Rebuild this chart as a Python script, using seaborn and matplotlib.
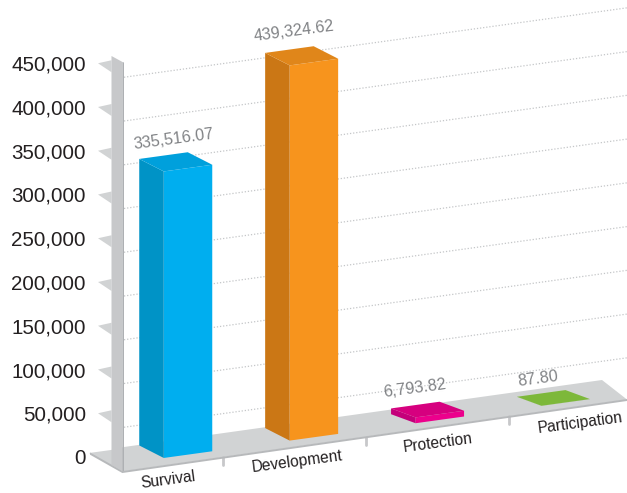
import matplotlib
matplotlib.use("Agg")
import matplotlib.pyplot as plt
from matplotlib.patches import Polygon
from matplotlib.transforms import Affine2D, IdentityTransform
import seaborn as sns
import pandas as pd

categories = ["Survival", "Development", "Protection", "Participation"]
values = [335516.07, 439324.62, 6793.82, 87.80]
value_labels = ["335,516.07", "439,324.62", "6,793.82", "87.80"]
y_ticks = [0, 50000, 100000, 150000, 200000, 250000, 300000, 350000, 400000, 450000]

front_colors = ["#00aeef", "#f7941d", "#ec008c", "#7db83a"]
side_colors = ["#0093c6", "#cb7715", "#c4007a", "#7db83a"]
top_colors = ["#00a0dc", "#e0861a", "#d6007f", "#7db83a"]

W, H = 627, 493
PX_PER_UNIT = 0.000875
ZERO_Y = 457
CAT_X0, CAT_DX = 188.0, 125.9
LEFT = 90
SLOPE = 0.138
BAR_FORESHORTEN = 0.976
DEPTH_X = -24.5
DEPTH_Y = [12.5, 12.5, 9, 9]

sns.set_theme(style="white")
plt.rcParams["font.family"] = ["Liberation Sans"]

fig = plt.figure(figsize=(W / 100, H / 100), dpi=100)
ax = fig.add_axes([LEFT / W, 0, 1 - LEFT / W, 1])
df = pd.DataFrame({"category": categories, "value": values})
sns.barplot(data=df, x="category", y="value", hue="category", palette=front_colors,
            width=48.5 / CAT_DX, legend=False, ax=ax, saturation=1, zorder=5)
bars = list(ax.patches)
ax.set_xlim((LEFT - CAT_X0) / CAT_DX, (W - CAT_X0) / CAT_DX)
ax.set_ylim(-(H - ZERO_Y) / PX_PER_UNIT, ZERO_Y / PX_PER_UNIT)
ax.set_xlabel("")
ax.set_ylabel("")
sns.despine(ax=ax, left=True, bottom=True)
ax.patch.set_alpha(0)
fig.canvas.draw()

px = Affine2D().scale(1, -1).translate(0, H)


def shear(x0, dy):
    return Affine2D([[1, 0, 0], [SLOPE, 1, -SLOPE * x0 + dy], [0, 0, 1]])


def poly(points, color, z, transform=px):
    ax.add_patch(Polygon(points, closed=True, facecolor=color, edgecolor="none",
                         transform=transform, zorder=z, clip_on=False))


# floor and wall
poly([(89, 453), (122.5, 471.5), (627, 399.5), (602, 380), (124, 447), (111, 450)], "#d1d3d4", 1)
ax.plot([89, 122.5, 627], [453, 472, 400], color="#b7b9bb", lw=1.4, transform=px, zorder=1.5,
        solid_joinstyle="miter")
poly([(111.5, 56), (122.5, 62), (122.5, 471), (111.5, 465)], "#c7c8ca", 2)
poly([(122.5, 62), (124, 62.5), (124, 471), (122.5, 471)], "#aeb0b3", 2)
for x_notch in [223, 366, 509]:
    y_edge = 471.5 - 0.1426 * (x_notch - 122.5)
    ax.plot([x_notch, x_notch], [y_edge, y_edge + 8], color="#c7c8ca", lw=2,
            transform=px, zorder=1)

# value axis: fins, gridlines, labels
grid_t = ax.transData + shear(124, -14)
x_grid = [(124 - CAT_X0) / CAT_DX, (W - CAT_X0) / CAT_DX]
for v in y_ticks[1:]:
    y = ZERO_Y - v * PX_PER_UNIT
    poly([(98, y), (111.5, y - 3), (111.5, y + 9)], "#d1d3d4", 1.8)
    ax.plot(x_grid, [v, v], color="#c4c6c8", lw=0.9, ls=(0, (1, 1.5)), transform=grid_t, zorder=1)

ax.set_yticks(y_ticks)
ax.set_yticklabels([f"{v:,}" for v in y_ticks], fontsize=14.8, color="#231f20")
ax.tick_params(axis="y", length=0, pad=3)

# bars standing on the sloped floor
bar_t = Affine2D().scale(1, BAR_FORESHORTEN) + ax.transData + shear(163.5, -1)
for i, patch in enumerate(bars):
    patch.set_transform(bar_t)
    patch.set_edgecolor("none")
    x, w, h = patch.get_x(), patch.get_width(), patch.get_height()
    fl, tl, tr = bar_t.transform([(x, 0), (x, h), (x + w, h)])
    d = (DEPTH_X, DEPTH_Y[i])
    back = lambda p: (p[0] + d[0], p[1] + d[1])
    poly([fl, tl, back(tl), back(fl)], side_colors[i], 5, IdentityTransform())
    poly([tl, tr, back(tr), back(tl)], top_colors[i], 5.1, IdentityTransform())

# value labels
label_offsets = [(-14.5, 29), (-20, 31), (-25, 26), (-28, 24)]
for i, (v, s, off) in enumerate(zip(values, value_labels, label_offsets)):
    ax.annotate(s, xy=(i, v), xycoords=bar_t, xytext=off, textcoords="offset pixels",
                ha="center", va="center", rotation=7.5, rotation_mode="anchor",
                color="#808285", fontsize=11.6, zorder=6, annotation_clip=False)

# category labels
label_pos = [(168, 480), (297, 462), (438, 443), (580, 423)]
ax.set_xticks(range(len(categories)))
ax.set_xticklabels(categories, fontsize=11.2, color="#231f20")
ax.tick_params(axis="x", length=0, pad=0)
for i, (lab, (lx, ly)) in enumerate(zip(ax.get_xticklabels(), label_pos)):
    lab.set_rotation(7.5)
    lab.set_rotation_mode("anchor")
    lab.set_ha("center")
    lab.set_va("center")
    lab.set_transform(lab.get_transform() +
                      Affine2D().translate(lx - (CAT_X0 + i * CAT_DX), H - ly))

fig.savefig("out.png", dpi=100)
